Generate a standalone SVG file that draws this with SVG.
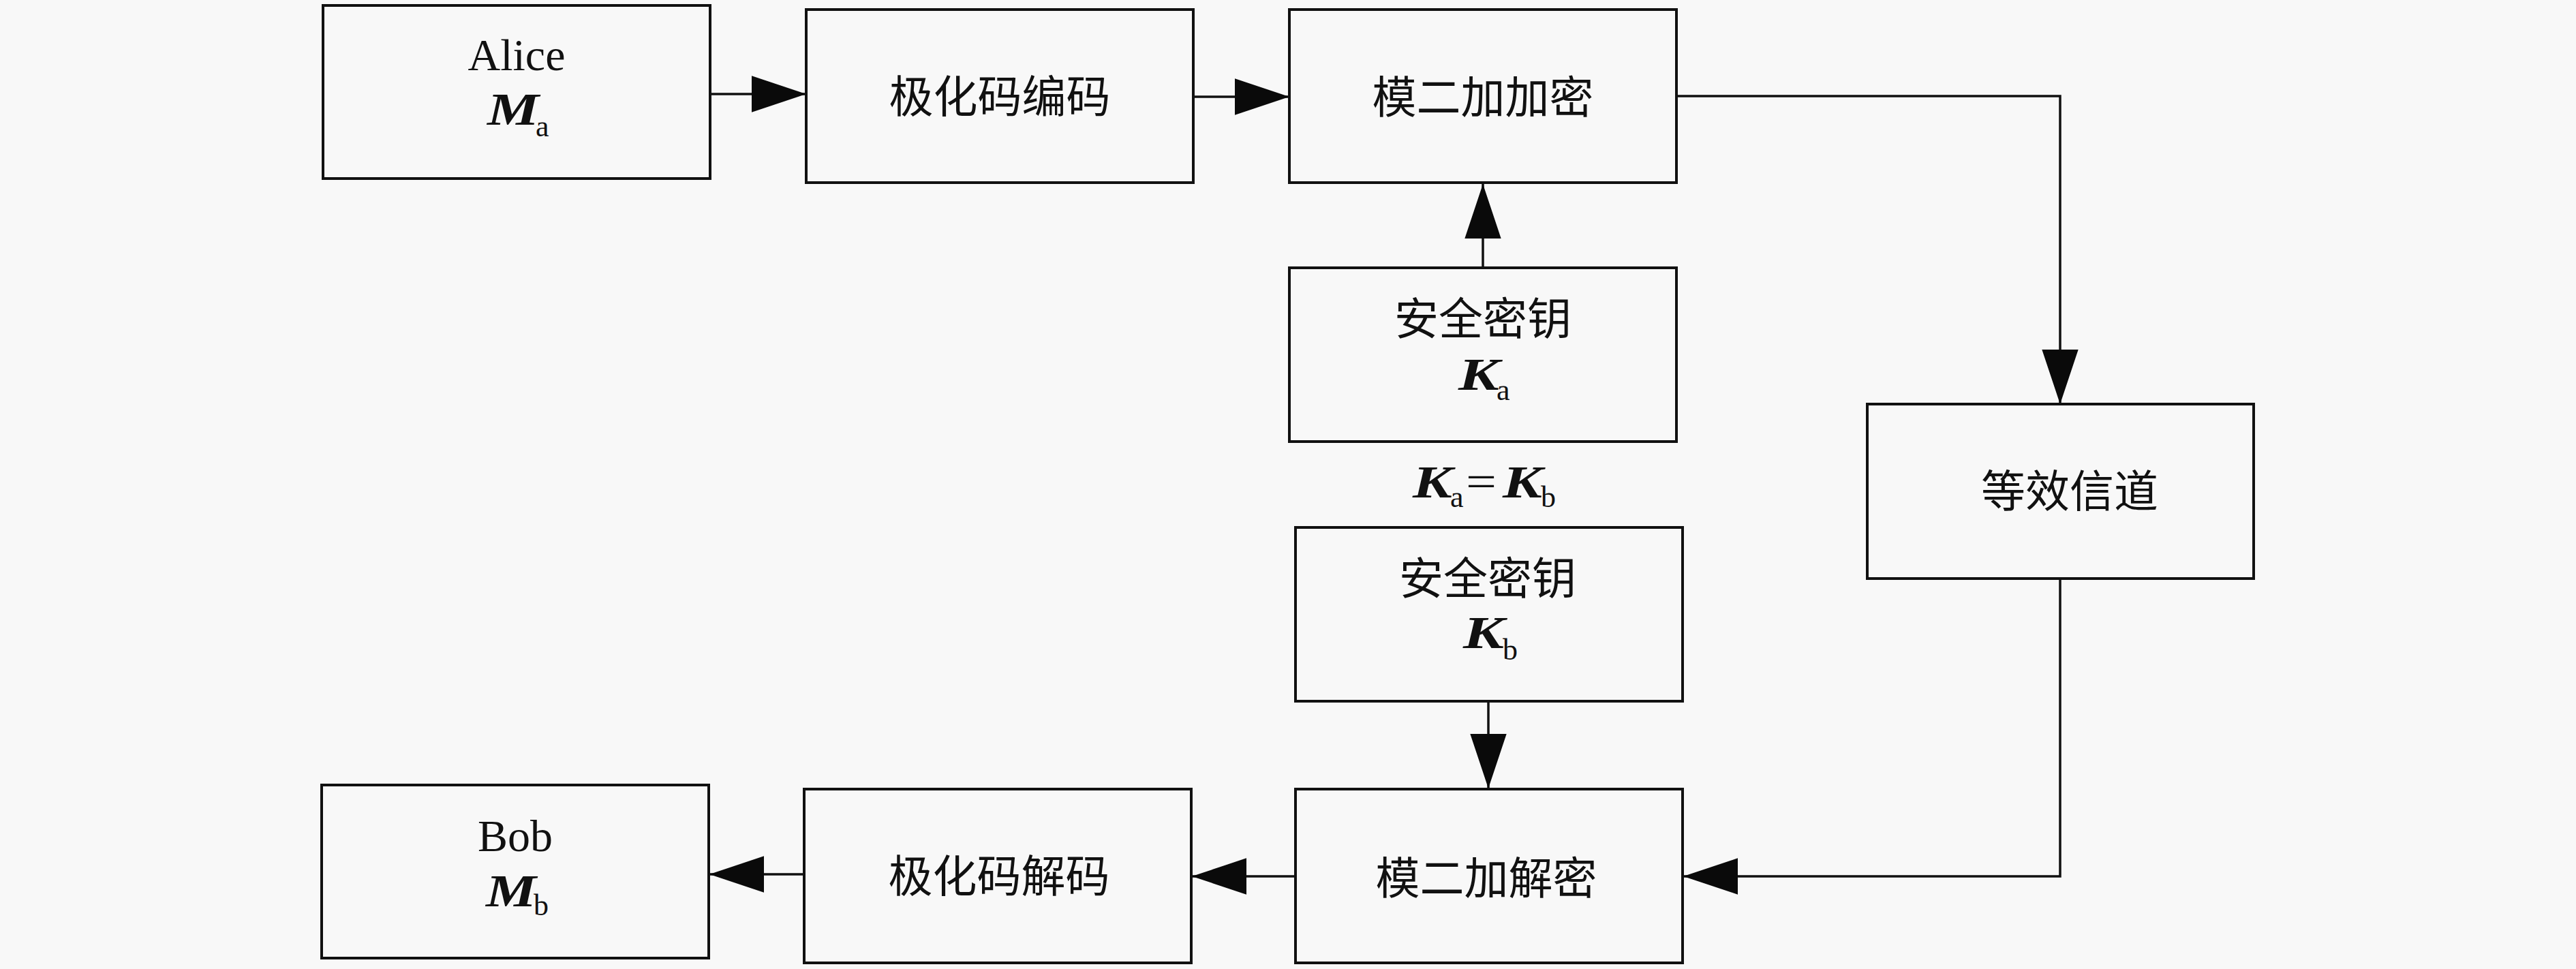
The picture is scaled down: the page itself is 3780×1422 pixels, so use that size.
<svg xmlns="http://www.w3.org/2000/svg" width="3780" height="1422" viewBox="0 0 3780 1422">
<style>
.box{fill:#f8f8f8;stroke:#111;stroke-width:4}
.cn{font-family:"Liberation Serif","Noto Sans CJK SC",serif;font-size:65px;fill:#111;text-anchor:middle}
.lat{font-family:"Liberation Serif",serif;font-size:66px;fill:#111}
.mb{font-family:"Liberation Serif",serif;font-size:68px;font-weight:bold;font-style:italic;fill:#111}
.sub{font-family:"Liberation Serif",serif;font-size:44px;fill:#111}
.ln{fill:none;stroke:#111;stroke-width:3.5}
</style>
<defs>
<marker id="ah" markerUnits="userSpaceOnUse" markerWidth="80" markerHeight="54" viewBox="0 0 78 52" refX="78" refY="26" orient="auto">
<path d="M0,0 L78,26 L0,52 Z" fill="#0a0a0a"/>
</marker>
</defs>
<rect width="3780" height="1422" fill="#f8f8f8"/>

<g id="connectors">
<line class="ln" x1="1042" y1="138" x2="1183" y2="138" marker-end="url(#ah)"/>
<line class="ln" x1="1751" y1="142" x2="1892" y2="142" marker-end="url(#ah)"/>
<path class="ln" d="M2460,141 H3023 V593" marker-end="url(#ah)"/>
<line class="ln" x1="2176" y1="393" x2="2176" y2="270" marker-end="url(#ah)"/>
<line class="ln" x1="2184" y1="1029" x2="2184" y2="1157" marker-end="url(#ah)"/>
<path class="ln" d="M3023,849 V1286 H2470" marker-end="url(#ah)"/>
<line class="ln" x1="1902" y1="1286" x2="1749" y2="1286" marker-end="url(#ah)"/>
<line class="ln" x1="1181" y1="1283" x2="1041" y2="1283" marker-end="url(#ah)"/>
</g>

<g id="alice">
<rect class="box" x="474" y="8" width="568" height="254"/>
<text class="lat" x="758" y="103" text-anchor="middle">Alice</text>
<text class="mb" x="715" y="183" textLength="76" lengthAdjust="spacingAndGlyphs">M</text>
<text class="sub" x="786" y="200">a</text>
</g>

<g id="polar-encode">
<rect class="box" x="1183" y="14" width="568" height="254"/>
<text class="cn" x="1467" y="165">极化码编码</text>
</g>

<g id="mod2-encrypt">
<rect class="box" x="1892" y="14" width="568" height="254"/>
<text class="cn" x="2176" y="166">模二加加密</text>
</g>

<g id="key-a">
<rect class="box" x="1892" y="393" width="568" height="255"/>
<text class="cn" x="2176" y="491">安全密钥</text>
<text class="mb" x="2140" y="572" textLength="60" lengthAdjust="spacingAndGlyphs">K</text>
<text class="sub" x="2196" y="587">a</text>
</g>

<g id="key-eq">
<text class="mb" x="2073" y="730" textLength="58" lengthAdjust="spacingAndGlyphs">K</text>
<text class="sub" x="2128" y="744">a</text>
<text class="lat" x="2151" y="729" textLength="45" lengthAdjust="spacingAndGlyphs">=</text>
<text class="mb" x="2205" y="730" textLength="58" lengthAdjust="spacingAndGlyphs">K</text>
<text class="sub" x="2261" y="744">b</text>
</g>

<g id="key-b">
<rect class="box" x="1901" y="774" width="568" height="255"/>
<text class="cn" x="2183" y="872">安全密钥</text>
<text class="mb" x="2147" y="951" textLength="60" lengthAdjust="spacingAndGlyphs">K</text>
<text class="sub" x="2205" y="968">b</text>
</g>

<g id="channel">
<rect class="box" x="2740" y="593" width="567" height="256"/>
<text class="cn" x="3037" y="744">等效信道</text>
</g>

<g id="mod2-decrypt">
<rect class="box" x="1901" y="1158" width="568" height="255"/>
<text class="cn" x="2181" y="1312">模二加解密</text>
</g>

<g id="polar-decode">
<rect class="box" x="1180" y="1158" width="568" height="255"/>
<text class="cn" x="1466" y="1309">极化码解码</text>
</g>

<g id="bob">
<rect class="box" x="472" y="1152" width="568" height="254"/>
<text class="lat" x="756" y="1249" text-anchor="middle">Bob</text>
<text class="mb" x="713" y="1330" textLength="74" lengthAdjust="spacingAndGlyphs">M</text>
<text class="sub" x="783" y="1343">b</text>
</g>
</svg>
